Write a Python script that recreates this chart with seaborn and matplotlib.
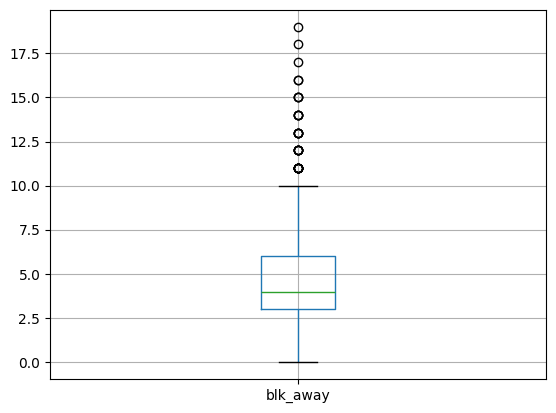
import numpy as np
import pandas as pd
import matplotlib
matplotlib.use("Agg")
import matplotlib.pyplot as plt
import seaborn as sns

# blocks-away values and how many rows have each value
blk_values = [0, 1, 2, 3, 4, 5, 6, 7, 8, 9, 10, 11, 12, 13, 14, 15, 16, 17, 18, 19]
blk_counts = [15, 35, 60, 110, 150, 95, 80, 55, 40, 28, 18, 10, 6, 5, 4, 3, 2, 1, 1, 1]

df = pd.DataFrame({"blk_away": np.repeat(blk_values, blk_counts)})

fig, ax = plt.subplots(figsize=(5.56, 4.13), dpi=100)
fig.subplots_adjust(left=0.09, right=0.982, top=0.976, bottom=0.082)

sns.boxplot(
    data=df,
    ax=ax,
    width=0.15,
    fill=False,
    linewidth=1,
    whis=1.5,
    boxprops=dict(color="#1f77b4"),
    whiskerprops=dict(color="#1f77b4"),
    capprops=dict(color="black"),
    medianprops=dict(color="#2ca02c"),
    flierprops=dict(marker="o", markerfacecolor="none",
                    markeredgecolor="black", markersize=6),
)

ax.set_xlim(-0.5, 0.5)
ax.set_ylim(-0.95, 19.95)
ax.grid(True)
ax.set_xlabel("")
ax.set_ylabel("")

fig.savefig("out.png", dpi=100)
